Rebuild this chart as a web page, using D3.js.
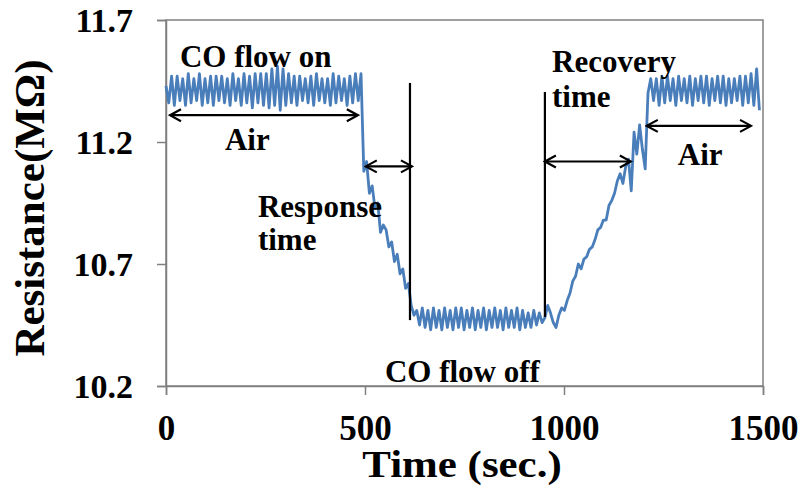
<!DOCTYPE html>
<html>
<head>
<meta charset="utf-8">
<script src="https://cdn.jsdelivr.net/npm/d3@7"></script>
<style>
body { margin: 0; background: #fff; }
text { font-family: "Liberation Serif", "Times New Roman", serif; font-weight: bold; }
</style>
</head>
<body>
<svg id="svg" width="801" height="491"></svg>
<script>
// sensor readings
var air1Time = [0,7,14,21,28,35,42,49,56,63,70,77,84,91,98,105,112,119,126,133,140,147,154,161,168,175,182,189,196,203,
  210,217,224,231,238,245,252,259,266,273,280,287,294,301,308,315,322,329,336,343,350,357,364,371,378,385,392,399,406,413,
  420,427,434,441,448,455,462,469,476,483,490];
var air1Res = [11.43,11.36,11.47,11.35,11.47,11.37,11.46,11.35,11.48,11.36,11.46,11.37,11.48,11.35,11.46,11.36,11.47,11.35,11.47,11.37,
  11.47,11.36,11.46,11.35,11.48,11.37,11.46,11.35,11.48,11.36,11.47,11.34,11.48,11.36,11.48,11.35,11.48,11.34,11.50,11.35,
  11.51,11.33,11.50,11.35,11.48,11.36,11.47,11.35,11.47,11.37,11.46,11.36,11.47,11.35,11.48,11.37,11.46,11.36,11.46,11.35,
  11.48,11.36,11.47,11.37,11.46,11.35,11.47,11.36,11.48,11.37,11.48];

var dropTime = [497,504,511,518,525,532,539,546,553,560,567,574,581,588,595,602,609,616];
var dropRes = [11.08,11.12,10.99,11.02,10.93,10.95,10.83,10.86,10.84,10.77,10.79,10.71,10.74,10.66,10.68,10.60,10.62,10.53];

var lowTime = [623,630,637,644,651,658,665,672,679,686,693,700,707,714,721,728,735,742,749,756,763,770,777,784,791,798,
  805,812,819,826,833,840,847,854,861,868,875,882,889,896,903,910,917,924,931,938,945];
var lowRes = [10.49,10.51,10.45,10.52,10.44,10.51,10.43,10.52,10.44,10.51,10.43,10.52,10.44,10.51,10.43,10.52,10.44,10.52,
  10.43,10.51,10.44,10.52,10.43,10.51,10.44,10.52,10.43,10.51,10.44,10.52,10.44,10.51,10.43,10.52,10.44,10.51,10.44,10.52,
  10.43,10.51,10.44,10.50,10.44,10.51,10.45,10.50,10.46];

var riseTime = [952,959,966,973,980,987,994,1001,1008,1015,1022,1029,1036,1043,1050,1057,1064,1071,1078,1085,1092,1099,
  1106,1113,1120,1127,1134,1141,1148,1155,1162,1169,1176,1183,1190,1197,1204,1211];
var riseRes = [10.48,10.53,10.50,10.46,10.44,10.49,10.52,10.51,10.55,10.58,10.63,10.65,10.70,10.68,10.72,10.73,10.76,10.77,
  10.80,10.84,10.85,10.88,10.88,10.94,10.96,10.99,11.04,11.07,11.03,11.10,11.13,11.00,11.24,11.15,11.27,11.17,11.09,11.40];

var air2Time = [1218,1225,1232,1239,1246,1253,1260,1267,1274,1281,1288,1295,1302,1309,1316,1323,1330,1337,1344,1351,
  1358,1365,1372,1379,1386,1393,1400,1407,1414,1421,1428,1435,1442,1449,1456,1463,1470,1477,1484,1491];
var air2Res = [11.46,11.37,11.46,11.35,11.47,11.36,11.47,11.37,11.46,11.35,11.47,11.37,11.46,11.36,11.47,11.35,11.46,11.37,
  11.47,11.36,11.47,11.35,11.46,11.37,11.47,11.36,11.47,11.35,11.46,11.36,11.46,11.37,11.47,11.35,11.47,11.36,11.48,11.35,
  11.50,11.33];

var xTicks = [0, 500, 1000, 1500];
var yTicks = [10.2, 10.7, 11.2, 11.7];

// annotations in data units
var arrows = [
  {t0: 10, t1: 482, r: 11.31},
  {t0: 502, t1: 618, r: 11.10},
  {t0: 952, t1: 1168, r: 11.12},
  {t0: 1208, t1: 1470, r: 11.266}
];
var markers = [
  {t: 613, r0: 11.442, r1: 10.47},
  {t: 952, r0: 11.405, r1: 10.483}
];
var labels = [
  {text: "CO flow on", t: 35, r: 11.507},
  {text: "Air", t: 148, r: 11.167},
  {text: "Response", t: 231, r: 10.893},
  {text: "time", t: 231, r: 10.757},
  {text: "CO flow off", t: 550, r: 10.216},
  {text: "Recovery", t: 970, r: 11.487},
  {text: "time", t: 970, r: 11.343},
  {text: "Air", t: 1286, r: 11.106}
];

var svg = d3.select("#svg");
var plotLeft = 166, plotRight = 763, plotTop = 20, plotBottom = 386;

var x = d3.scaleLinear().domain([0, 1500]).range([plotLeft, plotRight]);
var y = d3.scaleLinear().domain([10.2, 11.7]).range([plotBottom, plotTop]);

var allTime = air1Time.concat(dropTime, lowTime, riseTime, air2Time);
var allRes = air1Res.concat(dropRes, lowRes, riseRes, air2Res);
var pts = allTime.map(function(t, i) { return [t, allRes[i]]; });

// frame
svg.append("rect")
  .attr("x", plotLeft).attr("y", plotTop)
  .attr("width", plotRight - plotLeft).attr("height", plotBottom - plotTop)
  .attr("fill", "none").attr("stroke", "#808080").attr("stroke-width", 1.5);

var yAxis = svg.append("g")
  .attr("transform", "translate(" + plotLeft + ",0)")
  .call(d3.axisLeft(y).tickValues(yTicks).tickSize(9).tickFormat(d3.format(".1f")));
yAxis.select(".domain").attr("stroke", "#808080").attr("stroke-width", 1.5);
yAxis.selectAll(".tick line").attr("stroke", "#808080").attr("stroke-width", 1.5);
yAxis.selectAll(".tick text")
  .attr("x", -33).attr("dy", "0.34em")
  .attr("font-size", 34).attr("font-family", "Liberation Serif").attr("font-weight", "bold").attr("fill", "#000");

var xAxis = svg.append("g")
  .attr("transform", "translate(0," + plotBottom + ")")
  .call(d3.axisBottom(x).tickValues(xTicks).tickSize(9).tickFormat(d3.format("d")));
xAxis.select(".domain").attr("stroke", "#808080").attr("stroke-width", 1.5);
xAxis.selectAll(".tick line").attr("stroke", "#808080").attr("stroke-width", 1.5);
xAxis.selectAll(".tick text")
  .attr("y", 54).attr("dy", 0)
  .attr("font-size", 35).attr("font-family", "Liberation Serif").attr("font-weight", "bold").attr("fill", "#000");

// data line
svg.append("path")
  .datum(pts)
  .attr("fill", "none")
  .attr("stroke", "#4a7ebb")
  .attr("stroke-width", 2.8)
  .attr("stroke-linejoin", "round")
  .attr("d", d3.line().x(function(d) { return x(d[0]); }).y(function(d) { return y(d[1]); }));

// arrow heads, open chevrons
svg.append("defs").append("marker")
  .attr("id", "head")
  .attr("viewBox", "-13 -8 15 16")
  .attr("refX", 0).attr("refY", 0)
  .attr("markerWidth", 15).attr("markerHeight", 16)
  .attr("markerUnits", "userSpaceOnUse")
  .attr("orient", "auto-start-reverse")
  .append("path")
  .attr("d", "M-11,-6 L0,0 L-11,6")
  .attr("fill", "none").attr("stroke", "#000").attr("stroke-width", 2.2);

svg.selectAll(".arrow").data(arrows).enter().append("line")
  .attr("class", "arrow")
  .attr("x1", function(d) { return x(d.t0); })
  .attr("x2", function(d) { return x(d.t1); })
  .attr("y1", function(d) { return y(d.r); })
  .attr("y2", function(d) { return y(d.r); })
  .attr("stroke", "#000").attr("stroke-width", 2.2)
  .attr("marker-start", "url(#head)").attr("marker-end", "url(#head)");

svg.selectAll(".marker").data(markers).enter().append("line")
  .attr("class", "marker")
  .attr("x1", function(d) { return x(d.t); })
  .attr("x2", function(d) { return x(d.t); })
  .attr("y1", function(d) { return y(d.r0); })
  .attr("y2", function(d) { return y(d.r1); })
  .attr("stroke", "#000").attr("stroke-width", 2.2);

svg.selectAll(".lab").data(labels).enter().append("text")
  .attr("class", "lab")
  .attr("x", function(d) { return x(d.t); })
  .attr("y", function(d) { return y(d.r); })
  .attr("font-size", 31)
  .attr("fill", "#000")
  .text(function(d) { return d.text; });

// axis titles
svg.append("text")
  .attr("transform", "translate(462,477) scale(1.16,1)")
  .attr("text-anchor", "middle")
  .attr("font-size", 37)
  .text("Time (sec.)");

svg.append("text")
  .attr("transform", "translate(44,208) rotate(-90)")
  .attr("text-anchor", "middle")
  .attr("font-size", 43)
  .text("Resistance(MΩ)");
</script>
</body>
</html>
